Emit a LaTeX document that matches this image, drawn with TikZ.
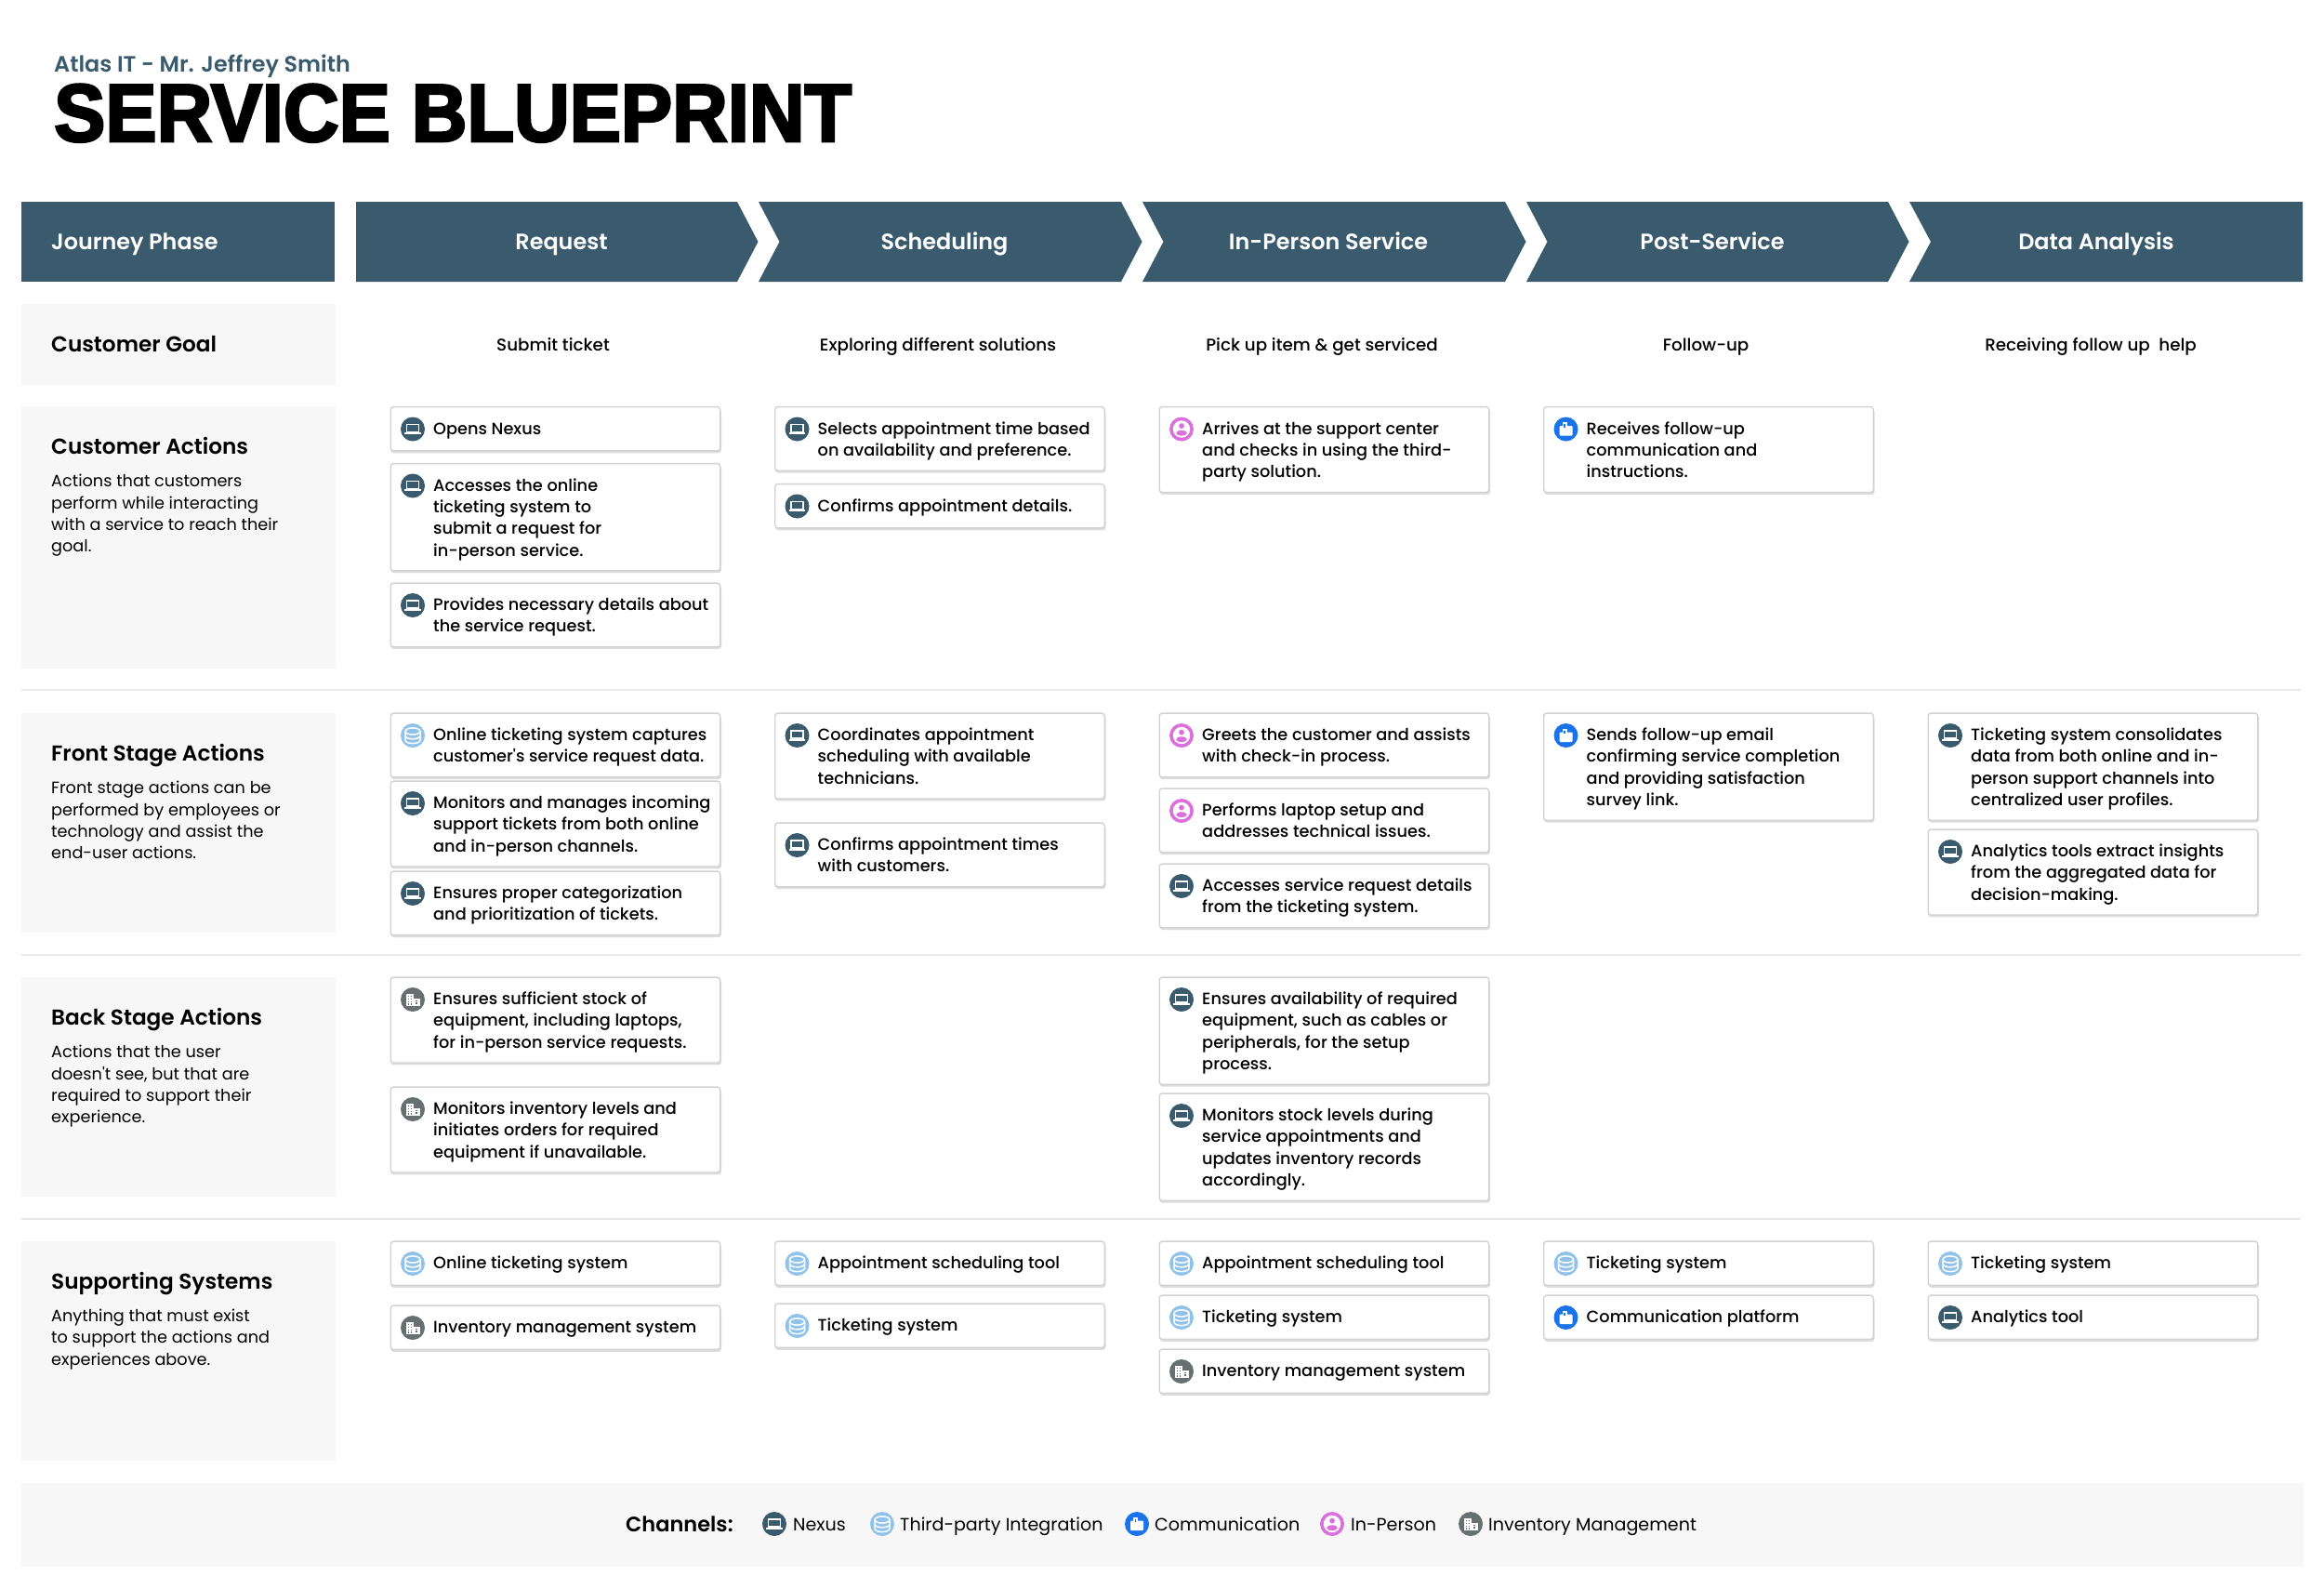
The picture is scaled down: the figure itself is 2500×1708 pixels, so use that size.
\documentclass[tikz,border=0pt]{standalone}
\usepackage{fontspec}
\setmainfont{Poppins}
\newfontfamily\regfont{Poppins}
\newfontfamily\medfont{Poppins Medium}
\newfontfamily\semifont{Poppins SemiBold}
\newfontfamily\boldfont{Poppins Bold}
\newfontfamily\titlefont{Liberation Sans Bold}[FakeBold=3,FakeStretch=0.94]
\definecolor{slate}{HTML}{3A5A6E}
\definecolor{panel}{HTML}{F7F7F7}
\definecolor{dbblue}{HTML}{90C2EA}
\definecolor{commblue}{HTML}{1A73E8}
\definecolor{pinkish}{HTML}{DA70DC}
\definecolor{invgrey}{HTML}{667070}
\definecolor{cardline}{HTML}{D2D2D2}
\definecolor{cardshadow}{HTML}{DDDDDD}
\definecolor{divider}{HTML}{E8E8E8}
\newcommand{\cardfont}{\fontsize{17.75}{23.3}\selectfont\medfont}
\newcommand{\goalfont}{\fontsize{18.3}{23.3}\selectfont\medfont}
\newcommand{\descfont}{\fontsize{17.7}{23.3}\selectfont\regfont}
\newcommand{\headfont}{\fontsize{23.2}{28}\selectfont\semifont}
\newcommand{\phasefont}{\fontsize{23.9}{28}\selectfont\semifont}
\newcommand{\legendfont}{\fontsize{19.1}{23}\selectfont\regfont}
\tikzset{
  cardbox/.style={draw=cardline,line width=1.4pt,fill=white,rounded corners=3pt,inner sep=0,anchor=north west,minimum width=354.5pt},
  cardshade/.style={fill=cardshadow,rounded corners=3pt},
  cardtext/.style={inner sep=0,anchor=north west,align=left,font=\cardfont,text=black},
  panelbox/.style={fill=panel,draw=none,inner sep=0,anchor=north west,minimum width=338pt},
  heading/.style={inner sep=0,anchor=base west,font=\headfont},
  desc/.style={inner sep=0,anchor=north west,align=left,font=\descfont},
  phaselabel/.style={inner sep=0,anchor=base,font=\phasefont,text=white},
  goaltext/.style={inner sep=0,anchor=base,font=\goalfont},
  legendtext/.style={inner sep=0,anchor=base west,font=\legendfont},
  rowline/.style={draw=divider,line width=1.6pt},
}
% icons
\newcommand{\iconN}{%
  \fill[slate] (0,0) circle (13);
  \draw[white,line width=1.8pt] (-6.5,-5) rectangle (6.5,3);
  \fill[white] (-8.7,3.8) rectangle (8.7,5.8);
}
\newcommand{\iconD}{%
  \fill[dbblue] (0,0) circle (13);
  \draw[white,line width=1.5pt] (0,-4.5) ellipse (8 and 3.6);
  \draw[white,line width=1.5pt] (-8,-4.5) -- (-8,5) arc (180:0:8 and 3.6) -- (8,-4.5);
  \draw[white,line width=1.5pt] (-8,0.2) arc (180:0:8 and 3.6);
}
\newcommand{\iconC}{%
  \fill[commblue] (0,0) circle (13);
  \fill[white,rounded corners=1pt] (-7,-3.5) rectangle (7,7);
  \fill[white] (-4,-7.5) rectangle (1,-3);
  \fill[commblue] (-2.2,-5.5) rectangle (-.6,-2);
}
\newcommand{\iconP}{%
  \fill[pinkish] (0,0) circle (13);
  \fill[white] (0,0) circle (9.2);
  \fill[pinkish] (0,-3.4) circle (2.9);
  \fill[pinkish] (0,4.2) ellipse (5.8 and 2.9);
}
\newcommand{\iconI}{%
  \fill[invgrey] (0,0) circle (13);
  \fill[white] (-7,-6.5) rectangle (1,7);
  \fill[white] (1,-1.5) rectangle (7.5,7);
  \foreach \a in {-5,-2.2} \foreach \b in {-4.5,-1.5,1.5,4.2} \fill[invgrey] (\a,\b) rectangle +(1.4,1.4);
  \foreach \b in {0.5,3.4} \fill[invgrey] (3.2,\b) rectangle +(2,1.4);
}
\newcommand{\icon}[3]{\begin{scope}[shift={(#2,#3)}]\csname icon#1\endcsname\end{scope}}
% \card{name}{x}{top}{lines}{icon}{text}
\newcommand{\card}[6]{%
  \pgfmathsetmacro{\cardh}{#4==1?47.3:23.3*#4+22}%
  \fill[cardshade] (#2+1,#3+2.5) rectangle ++(355.5,\cardh);
  \node[cardbox,minimum height=\cardh pt] (#1) at (#2,#3-0.6) {};
  \icon{#5}{#2+24.5}{#3+24}
  \node[cardtext] (#1t) at (#2+46.5,#3+13.1) {\strut#6};
}
\begin{document}
\begin{tikzpicture}[x=1pt,y=-1pt]
\useasboundingbox (0,0) rectangle (2500,1708);
\fill[white] (0,0) rectangle (2500,1708);
% title
\node[anchor=base west,inner sep=0] (sub) at (58,77) {\fontsize{23.85}{28}\selectfont\semifont\color{slate}Atlas IT - Mr. Jeffrey Smith};
\node[anchor=base west,inner sep=0] (title) at (58,152) {\fontsize{88}{90}\selectfont\titlefont SERVICE BLUEPRINT};
% header
\fill[slate] (23,217) rectangle (360,303);
\node[phaselabel,anchor=base west] (jp) at (55,268) {Journey Phase};
\fill[slate] (383,217) -- (793,217) -- (815.5,260) -- (793,303) -- (383,303) -- cycle;
\fill[slate] (816,217) -- (1206,217) -- (1228.5,260) -- (1206,303) -- (816,303) -- (838.5,260) -- cycle;
\fill[slate] (1229,217) -- (1619,217) -- (1641.5,260) -- (1619,303) -- (1229,303) -- (1251.5,260) -- cycle;
\fill[slate] (1642,217) -- (2031,217) -- (2053.5,260) -- (2031,303) -- (1642,303) -- (1664.5,260) -- cycle;
\fill[slate] (2054,217) -- (2477,217) -- (2477,303) -- (2054,303) -- (2077,260) -- cycle;
\node[phaselabel] (p1) at (604,268) {Request};
\node[phaselabel] (p2) at (1016,268) {Scheduling};
\node[phaselabel] (p3) at (1429,268) {In-Person Service};
\node[phaselabel] (p4) at (1842,268) {Post-Service};
\node[phaselabel] (p5) at (2255,268) {Data Analysis};
% goal row
\node[panelbox,minimum height=87pt] (goalp) at (23,327) {};
\node[heading] (goalh) at (55,378) {Customer Goal};
\node[goaltext] (g1) at (595,377) {Submit ticket};
\node[goaltext] (g2) at (1009,377) {Exploring different solutions};
\node[goaltext] (g3) at (1422,377) {Pick up item \& get serviced};
\node[goaltext] (g4) at (1835,377) {Follow-up};
\node[goaltext] (g5) at (2249,377) {Receiving follow up\ \ help};
% panels
\node[panelbox,minimum height=282pt] (cap) at (23,437) {};
\node[heading] (cah) at (55,488) {Customer Actions};
\node[desc] (cad) at (55,507.4) {\strut Actions that customers\\perform while interacting\\with a service to reach their\\goal.};
\node[panelbox,minimum height=236pt] (fsp) at (23,767) {};
\node[heading] (fsh) at (55,818) {Front Stage Actions};
\node[desc] (fsd) at (55,837.4) {\strut Front stage actions can be\\performed by employees or\\technology and assist the\\end-user actions.};
\node[panelbox,minimum height=236pt] (bsp) at (23,1051) {};
\node[heading] (bsh) at (55,1102) {Back Stage Actions};
\node[desc] (bsd) at (55,1121.4) {\strut Actions that the user\\doesn't see, but that are\\required to support their\\experience.};
\node[panelbox,minimum height=236pt] (ssp) at (23,1335) {};
\node[heading] (ssh) at (55,1386) {Supporting Systems};
\node[desc] (ssd) at (55,1405) {\strut Anything that must exist\\to support the actions and\\experiences above.};
% dividers
\coordinate (d1a) at (23,742); \coordinate (d1b) at (2475,742);
\coordinate (d2a) at (23,1027); \coordinate (d2b) at (2475,1027);
\coordinate (d3a) at (23,1311); \coordinate (d3b) at (2475,1311);
\draw[rowline] (d1a) -- (d1b);
\draw[rowline] (d2a) -- (d2b);
\draw[rowline] (d3a) -- (d3b);
% customer actions
\card{a1}{419.5}{437.5}{1}{N}{Opens Nexus}
\card{a2}{419.5}{498.5}{4}{N}{Accesses the online\\ticketing system to\\submit a request for\\in-person service.}
\card{a3}{419.5}{627}{2}{N}{Provides necessary details about\\the service request.}
\card{a4}{833}{437.5}{2}{N}{Selects appointment time based\\on availability and preference.}
\card{a5}{833}{520.5}{1}{N}{Confirms appointment details.}
\card{a6}{1246.5}{437.5}{3}{P}{Arrives at the support center\\and checks in using the third-\\party solution.}
\card{a7}{1660}{437.5}{3}{C}{Receives follow-up\\communication and\\instructions.}
% front stage
\card{f1}{419.5}{767}{2}{D}{Online ticketing system captures\\customer's service request data.}
\card{f2}{419.5}{840}{3}{N}{Monitors and manages incoming\\support tickets from both online\\and in-person channels.}
\card{f3}{419.5}{937}{2}{N}{Ensures proper categorization\\and prioritization of tickets.}
\card{f4}{833}{767}{3}{N}{Coordinates appointment\\scheduling with available\\technicians.}
\card{f5}{833}{885}{2}{N}{Confirms appointment times\\with customers.}
\card{f6}{1246.5}{767}{2}{P}{Greets the customer and assists\\with check-in process.}
\card{f7}{1246.5}{848}{2}{P}{Performs laptop setup and\\addresses technical issues.}
\card{f8}{1246.5}{929}{2}{N}{Accesses service request details\\from the ticketing system.}
\card{f9}{1660}{767}{4}{C}{Sends follow-up email\\confirming service completion\\and providing satisfaction\\survey link.}
\card{f10}{2073.5}{767}{4}{N}{Ticketing system consolidates\\data from both online and in-\\person support channels into\\centralized user profiles.}
\card{f11}{2073.5}{892}{3}{N}{Analytics tools extract insights\\from the aggregated data for\\decision-making.}
% back stage
\card{b1}{419.5}{1051}{3}{I}{Ensures sufficient stock of\\equipment, including laptops,\\for in-person service requests.}
\card{b2}{419.5}{1169}{3}{I}{Monitors inventory levels and\\initiates orders for required\\equipment if unavailable.}
\card{b3}{1246.5}{1051}{4}{N}{Ensures availability of required\\equipment, such as cables or\\peripherals, for the setup\\process.}
\card{b4}{1246.5}{1176}{4}{N}{Monitors stock levels during\\service appointments and\\updates inventory records\\accordingly.}
% supporting
\card{s1}{419.5}{1335}{1}{D}{Online ticketing system}
\card{s2}{419.5}{1404}{1}{I}{Inventory management system}
\card{s3}{833}{1335}{1}{D}{Appointment scheduling tool}
\card{s4}{833}{1402}{1}{D}{Ticketing system}
\card{s5}{1246.5}{1335}{1}{D}{Appointment scheduling tool}
\card{s6}{1246.5}{1393}{1}{D}{Ticketing system}
\card{s7}{1246.5}{1451}{1}{I}{Inventory management system}
\card{s8}{1660}{1335}{1}{D}{Ticketing system}
\card{s9}{1660}{1393}{1}{C}{Communication platform}
\card{s10}{2073.5}{1335}{1}{D}{Ticketing system}
\card{s11}{2073.5}{1393}{1}{N}{Analytics tool}
% channels
\fill[panel] (23,1595) rectangle (2478,1685);
\node[heading,font=\fontsize{22.5}{28}\selectfont\semifont] (ch) at (673,1647) {Channels:};
\icon{N}{833}{1639}
\node[legendtext] (l1) at (853,1646) {Nexus};
\icon{D}{949}{1639}
\node[legendtext] (l2) at (968,1646) {Third-party Integration};
\icon{C}{1223}{1639}
\node[legendtext] (l3) at (1242,1646) {Communication};
\icon{P}{1433}{1639}
\node[legendtext] (l4) at (1453,1646) {In-Person};
\icon{I}{1582}{1639}
\node[legendtext] (l5) at (1601,1646) {Inventory Management};
\end{tikzpicture}
\end{document}
